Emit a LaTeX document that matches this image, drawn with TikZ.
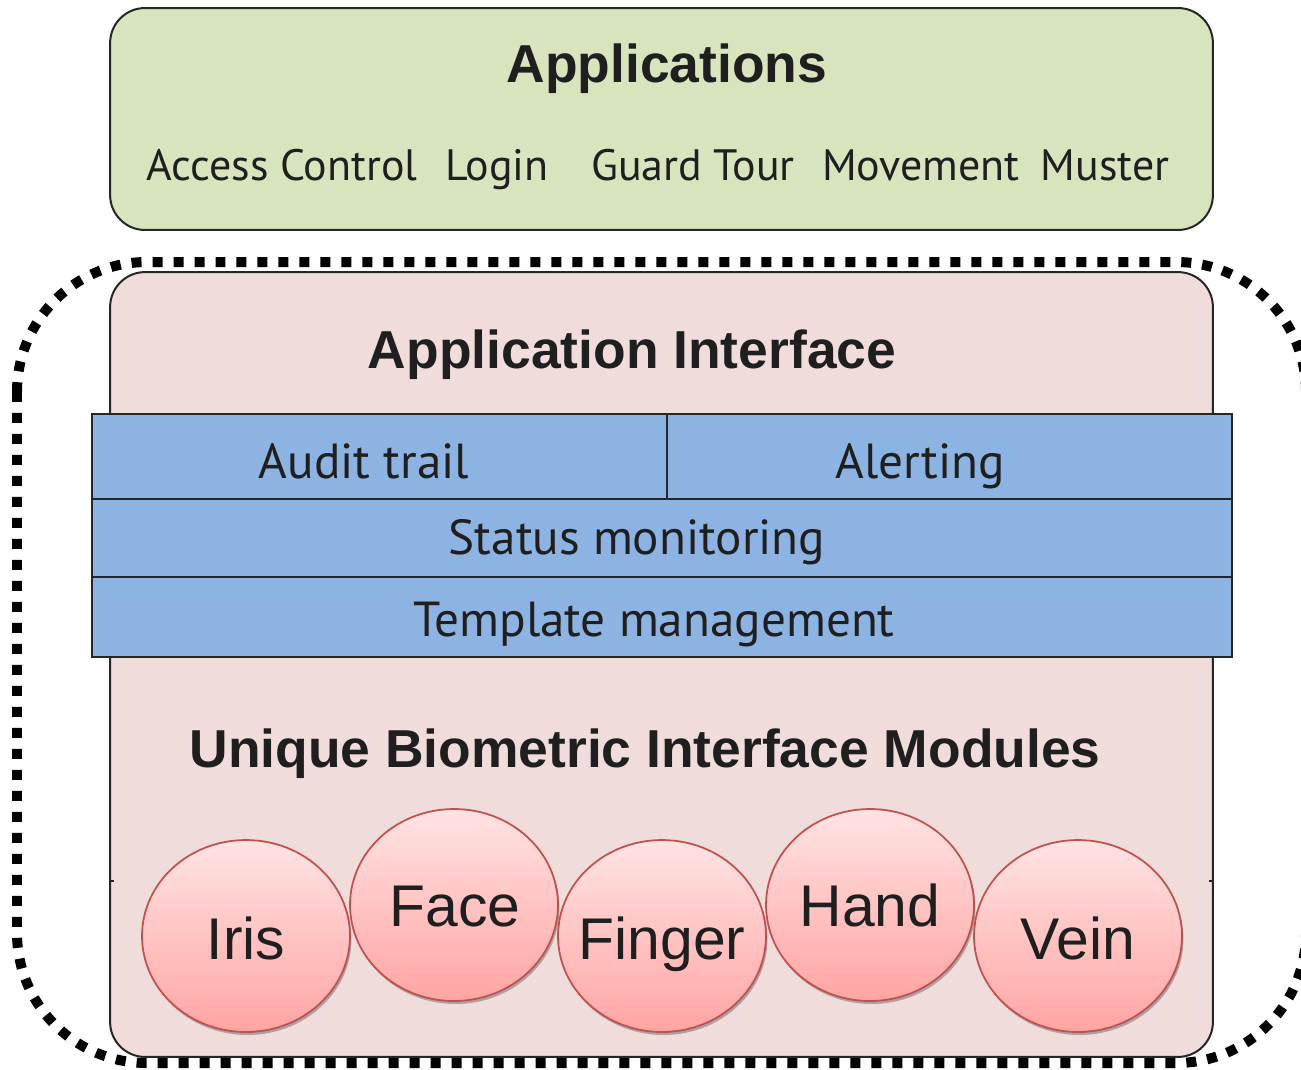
\documentclass[tikz,border=0pt]{standalone}
\usepackage{fontspec}
\setmainfont{Liberation Sans}
\newfontfamily\hum{PT Sans}
\usetikzlibrary{shapes.geometric,shadows}
\definecolor{appgreen}{HTML}{D7E4BD}
\definecolor{ifpink}{HTML}{F0DCDB}
\definecolor{ifblue}{HTML}{8DB3E2}
\definecolor{edge}{HTML}{262626}
\definecolor{txt}{HTML}{1F1F1F}
\definecolor{circtop}{HTML}{FFE3E3}
\definecolor{circbot}{HTML}{FFA5A3}
\definecolor{circedge}{HTML}{C0504D}
\tikzset{
  boxline/.style={draw=edge, line width=0.04cm},
  roundbox/.style={boxline, rectangle, rounded corners=0.7cm, inner sep=0pt},
  bluebox/.style={boxline, fill=ifblue, rectangle, inner sep=0pt},
  title/.style={anchor=base, text=txt, font=\fontsize{30.4}{36}\selectfont\bfseries},
  apptext/.style={anchor=base, text=txt, font=\hum\fontsize{25}{30}\selectfont},
  layertext/.style={anchor=base, text=txt, font=\hum\fontsize{28}{34}\selectfont},
  modtext/.style={anchor=base, text=txt, font=\fontsize{33.5}{40}\selectfont},
  module/.style={ellipse, draw=circedge, line width=0.035cm, top color=circtop, bottom color=circbot,
    minimum width=4.16cm, minimum height=3.84cm, inner sep=0pt,
    drop shadow={shadow xshift=0.03cm, shadow yshift=-0.06cm, fill=black!45, opacity=0.7}},
}
\begin{document}
\begin{tikzpicture}[x=0.02cm, y=-0.02cm]
\useasboundingbox (0,0) rectangle (1301,1069);
\clip (0,0) rectangle (1301,1069);
% dotted outer border
\draw[line width=0.2cm, dash pattern=on 0.2cm off 0.22cm, rounded corners=2.6cm]
  (17,262) rectangle (1306,1063);
% applications box
\node[roundbox, fill=appgreen, minimum width=22.06cm, minimum height=4.44cm] (apps) at (661.5,119) {};
\node[title] (appstitle) at (667,82) {Applications};
\node[apptext] (access) at (282,180) {Access Control};
\node[apptext] (login) at (497,180) {Login};
\node[apptext] (guard) at (693,180) {Guard Tour};
\node[apptext] (move) at (921,180) {Movement};
\node[apptext] (muster) at (1105,180) {Muster};
% interface box
\node[roundbox, fill=ifpink, minimum width=22.06cm, minimum height=15.7cm] (iface) at (661.5,664.5) {};
\node[title] (ifacetitle) at (632,368) {Application Interface};
\draw[edge, line width=0.04cm] (110,881) -- (114,881);
\draw[edge, line width=0.04cm] (1209,881) -- (1213,881);
% layers
\node[bluebox, minimum width=11.5cm, minimum height=1.7cm] (audit) at (379.5,456.5) {};
\node[bluebox, minimum width=11.3cm, minimum height=1.7cm] (alert) at (949.5,456.5) {};
\node[bluebox, minimum width=22.8cm, minimum height=1.56cm] (status) at (662,538) {};
\node[bluebox, minimum width=22.8cm, minimum height=1.6cm] (templ) at (662,617) {};
\node[layertext] (audittxt) at (364,478) {Audit trail};
\node[layertext] (alerttxt) at (920,478) {Alerting};
\node[layertext] (statustxt) at (637,554) {Status monitoring};
\node[layertext] (templtxt) at (654,636) {Template management};
% modules
\node[title] (modtitle) at (645,767) {Unique Biometric Interface Modules};
\node[module] (iris) at (246,936) {};
\node[module] (face) at (454,905) {};
\node[module] (finger) at (662,936) {};
\node[module] (hand) at (870,905) {};
\node[module] (vein) at (1078,936) {};
\node[modtext] (iristxt) at (246,959) {Iris};
\node[modtext] (facetxt) at (455,926) {Face};
\node[modtext] (fingertxt) at (662,959) {Finger};
\node[modtext] (handtxt) at (870,926) {Hand};
\node[modtext] (veintxt) at (1078,959) {Vein};
\end{tikzpicture}
\end{document}
